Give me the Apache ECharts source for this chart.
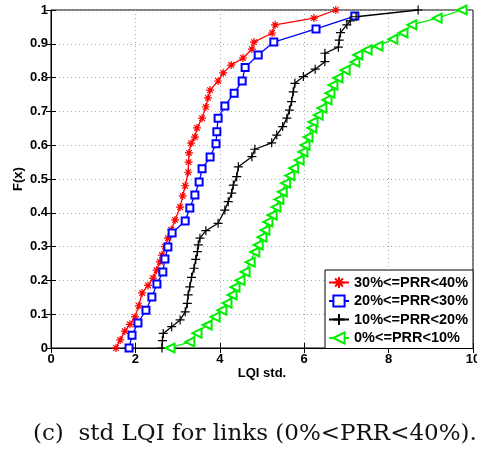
<!DOCTYPE html>
<html>
<head>
<meta charset="utf-8">
<script src="https://cdn.jsdelivr.net/npm/echarts@6/dist/echarts.min.js"></script>
<style>
  html, body { margin: 0; padding: 0; background: #fff; }
  #chart { width: 477px; height: 452px; }
</style>
</head>
<body>
<div id="chart"></div>
<script>
// CDF points: [LQI std, F(x)]
const prr30to40 = [
  [1.54,0],[1.64,0.024],[1.75,0.05],[1.87,0.07],[1.99,0.092],[2.08,0.125],[2.16,0.163],
  [2.3,0.185],[2.42,0.207],[2.5,0.23],[2.58,0.255],[2.63,0.275],[2.7,0.3],[2.77,0.325],
  [2.85,0.35],[2.94,0.379],[3.06,0.417],[3.12,0.45],[3.18,0.48],[3.25,0.52],[3.26,0.55],
  [3.27,0.577],[3.32,0.606],[3.41,0.624],[3.46,0.651],[3.58,0.68],[3.67,0.713],[3.72,0.74],
  [3.77,0.763],[3.96,0.79],[4.08,0.814],[4.27,0.837],[4.55,0.858],[4.76,0.884],[4.81,0.905],
  [5.24,0.932],[5.31,0.956],[6.23,0.976],[6.75,1]
];
const prr20to30 = [
  [1.85,0],[1.92,0.038],[2.06,0.074],[2.25,0.112],[2.39,0.151],[2.51,0.189],[2.65,0.225],
  [2.7,0.263],[2.77,0.299],[2.87,0.34],[3.18,0.376],[3.29,0.414],[3.41,0.453],[3.51,0.491],
  [3.58,0.53],[3.77,0.565],[3.91,0.604],[3.93,0.64],[3.96,0.68],[4.12,0.716],[4.34,0.754],
  [4.53,0.79],[4.6,0.83],[4.91,0.867],[5.28,0.905],[6.28,0.944],[7.2,0.982]
];
const prr10to20 = [
  [2.63,0],[2.64,0.022],[2.66,0.043],[2.86,0.063],[3.06,0.083],[3.18,0.107],[3.23,0.132],
  [3.25,0.157],[3.29,0.181],[3.33,0.209],[3.39,0.236],[3.43,0.262],[3.47,0.285],[3.49,0.305],
  [3.53,0.325],[3.67,0.347],[3.96,0.369],[4.12,0.408],[4.2,0.433],[4.28,0.458],[4.32,0.482],
  [4.4,0.507],[4.44,0.536],[4.76,0.566],[4.83,0.588],[5.23,0.607],[5.35,0.63],[5.49,0.655],
  [5.59,0.68],[5.65,0.704],[5.7,0.729],[5.74,0.758],[5.78,0.783],[5.98,0.803],[6.26,0.825],
  [6.49,0.847],[6.49,0.872],[6.81,0.89],[6.83,0.911],[6.86,0.933],[7.01,0.956],[7.09,0.968],
  [7.23,0.98],[8.7,1]
];
const prr0to10 = [
  [2.82,0],[3.29,0.018],[3.46,0.044],[3.7,0.068],[3.89,0.092],[4.05,0.112],[4.17,0.133],
  [4.29,0.157],[4.36,0.18],[4.48,0.2],[4.6,0.225],[4.72,0.254],[4.83,0.284],[4.91,0.305],
  [5.0,0.328],[5.07,0.349],[5.14,0.373],[5.24,0.393],[5.33,0.417],[5.4,0.44],[5.48,0.462],
  [5.56,0.488],[5.66,0.51],[5.75,0.532],[5.88,0.556],[5.97,0.58],[6.02,0.6],[6.09,0.624],
  [6.18,0.651],[6.21,0.669],[6.33,0.689],[6.42,0.71],[6.54,0.734],[6.61,0.754],[6.68,0.778],
  [6.8,0.799],[6.97,0.822],[7.2,0.846],[7.27,0.867],[7.49,0.882],[7.75,0.893],[8.1,0.914],
  [8.34,0.932],[8.55,0.956],[9.15,0.976],[9.74,1]
];
const seriesNames = ['30%<=PRR<40%', '20%<=PRR<30%', '10%<=PRR<20%', '0%<=PRR<10%'];

const asterisk = 'path://M0,5L10,5M5,0L5,10M1.5,1.5L8.5,8.5M8.5,1.5L1.5,8.5';
const plus = 'path://M0,5L10,5M5,0L5,10';
const fontBold = { fontFamily: 'Liberation Sans', fontWeight: 'bold', fontSize: 13, color: '#000' };

function mkSeries(name, data, color, symbol, size, extra) {
  return Object.assign({
    name: name,
    type: 'line',
    data: data,
    clip: false,
    symbol: symbol,
    symbolSize: size,
    lineStyle: { color: color, width: 1.3 },
    itemStyle: { color: color, borderColor: color, borderWidth: 1.2 },
    emphasis: { disabled: true },
    animation: false,
    z: 5
  }, extra || {});
}

const chart = echarts.init(document.getElementById('chart'), null, { renderer: 'canvas' });
const gridLine = { show: true, lineStyle: { color: '#aaa', type: [1, 3], width: 1 } };
chart.setOption({
  animation: false,
  grid: {
    left: 51, right: 4, top: 10, bottom: 104,
    outerBoundsMode: 'none', containLabel: false,
    show: true, borderColor: '#000', borderWidth: 1, backgroundColor: 'transparent'
  },
  xAxis: [{
    type: 'value', min: 0, max: 10, interval: 2,
    name: 'LQI std.', nameLocation: 'middle', nameGap: 19, nameMoveOverlap: false,
    nameTextStyle: fontBold,
    axisLine: { show: true, onZero: false, lineStyle: { color: '#000', width: 1 } },
    axisTick: { show: true, inside: true, length: 5, lineStyle: { color: '#000' } },
    axisLabel: Object.assign({ margin: 5, formatter: v => String(v), hideOverlap: false }, fontBold),
    splitLine: gridLine
  }, {
    type: 'value', min: 0, max: 10, interval: 2, position: 'top',
    axisLine: { show: false },
    axisTick: { show: true, inside: true, length: 5, lineStyle: { color: '#000' } },
    axisLabel: { show: false }, splitLine: { show: false }
  }],
  yAxis: [{
    type: 'value', min: 0, max: 1, interval: 0.1,
    name: 'F(x)', nameLocation: 'middle', nameGap: 26, nameRotate: 90, nameMoveOverlap: false,
    nameTextStyle: fontBold,
    axisLine: { show: true, onZero: false, lineStyle: { color: '#000', width: 1 } },
    axisTick: { show: true, inside: true, length: 5, lineStyle: { color: '#000' } },
    axisLabel: Object.assign({ margin: 3, formatter: v => String(+v.toFixed(1)) }, fontBold),
    splitLine: gridLine
  }, {
    type: 'value', min: 0, max: 1, interval: 0.1, position: 'right',
    axisLine: { show: false },
    axisTick: { show: true, inside: true, length: 5, lineStyle: { color: '#000' } },
    axisLabel: { show: false }, splitLine: { show: false }
  }],
  legend: {
    orient: 'vertical',
    left: 325, top: 270,
    padding: [5, 5, 3, 3],
    itemGap: 3.5,
    itemWidth: 20, itemHeight: 14,
    backgroundColor: '#fff',
    borderColor: '#000', borderWidth: 1, borderRadius: 0,
    textStyle: { fontFamily: 'Liberation Sans', fontWeight: 'bold', fontSize: 14.5, color: '#000' },
    data: seriesNames,
    selectedMode: false,
    z: 10
  },
  series: [
    mkSeries(seriesNames[0], prr30to40, '#ff0000', asterisk, 8),
    mkSeries(seriesNames[1], prr20to30, '#0000ff', 'emptyRect', 7),
    mkSeries(seriesNames[2], prr10to20, '#000000', plus, 9),
    mkSeries(seriesNames[3], prr0to10, '#00ee00', 'emptyTriangle', 9, { symbolRotate: 90 })
  ],
  graphic: [{
    type: 'text',
    left: 33,
    top: 423,
    style: {
      text: '(c)  std LQI for links (0%<PRR<40%).',
      font: '23px "DejaVu Serif"',
      fill: '#111'
    }
  }]
});
</script>
</body>
</html>
